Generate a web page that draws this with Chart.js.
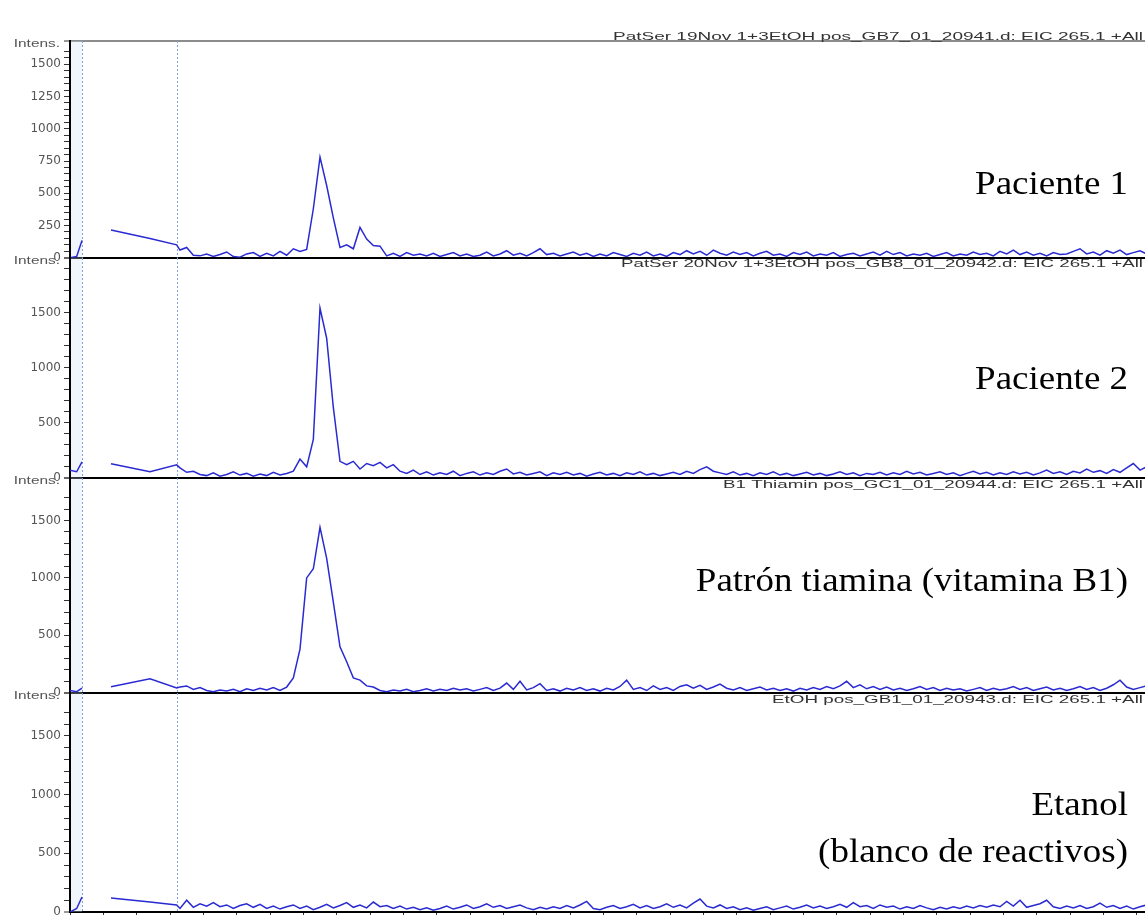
<!DOCTYPE html>
<html>
<head>
<meta charset="utf-8">
<script src="https://cdn.jsdelivr.net/npm/chart.js@4.4.1/dist/chart.umd.min.js"></script>
<style>
html,body{margin:0;padding:0;background:#fff;width:1145px;height:915px;overflow:hidden;}
#wrap{position:relative;width:1145px;height:915px;overflow:hidden;background:#fff;}
#wrap canvas{position:absolute;left:0;}
</style>
</head>
<body>
<div id="wrap"></div>
<script>
// ---------- DATA ----------
// retention-time axis (one x tick = 1 unit)
const earlyTimes = [0, 0.2, 0.36, 0.6, 1.23, 2.4, 3.2];
const scanTimes = [
  3.3,3.5,3.7,3.9,4.1,4.3,4.5,4.7,4.9,5.1,
  5.3,5.5,5.7,5.9,6.1,6.3,6.5,6.7,6.9,7.1,
  7.3,7.5,7.7,7.9,8.1,8.3,8.5,8.7,8.9,9.1,
  9.3,9.5,9.7,9.9,10.1,10.3,10.5,10.7,10.9,11.1,
  11.3,11.5,11.7,11.9,12.1,12.3,12.5,12.7,12.9,13.1,
  13.3,13.5,13.7,13.9,14.1,14.3,14.5,14.7,14.9,15.1,
  15.3,15.5,15.7,15.9,16.1,16.3,16.5,16.7,16.9,17.1,
  17.3,17.5,17.7,17.9,18.1,18.3,18.5,18.7,18.9,19.1,
  19.3,19.5,19.7,19.9,20.1,20.3,20.5,20.7,20.9,21.1,
  21.3,21.5,21.7,21.9,22.1,22.3,22.5,22.7,22.9,23.1,
  23.3,23.5,23.7,23.9,24.1,24.3,24.5,24.7,24.9,25.1,
  25.3,25.5,25.7,25.9,26.1,26.3,26.5,26.7,26.9,27.1,
  27.3,27.5,27.7,27.9,28.1,28.3,28.5,28.7,28.9,29.1,
  29.3,29.5,29.7,29.9,30.1,30.3,30.5,30.7,30.9,31.1,
  31.3,31.5,31.7,31.9,32.1,32.3
];
const markerTimes = [0.36, 3.22];

// Paciente 1 (EIC 265.1)
const paciente1Early = [0, 10, 135, null, 215, 150, 100];
const paciente1Scan = [
  60,80,20,15,30,10,25,45,10,5,
  30,40,10,35,15,50,20,70,50,65,
  380,780,560,310,80,100,70,235,145,95,
  90,15,35,10,40,20,30,15,35,10,
  25,40,15,30,10,20,45,15,30,55,
  20,35,15,40,70,25,35,15,30,45,
  20,35,10,30,15,40,25,10,35,20,
  45,15,30,10,40,25,55,30,50,20,
  60,35,20,45,25,40,15,35,50,20,
  30,10,40,25,45,15,30,20,40,10,
  25,35,15,30,45,20,50,25,40,15,
  30,20,35,10,25,40,15,30,20,45,
  25,35,15,50,30,60,25,45,20,35,
  15,40,25,30,50,70,30,45,20,55,
  35,60,25,40,55,30
];
// Paciente 2
const paciente2Early = [70, 55, 145, null, 127, 55, 118];
const paciente2Scan = [
  90,50,60,30,20,45,15,30,55,25,
  40,15,35,20,50,25,40,60,170,100,
  350,1545,1270,640,150,120,150,80,130,110,
  140,90,120,60,40,70,30,55,25,45,
  30,60,20,40,55,25,45,30,60,80,
  35,50,25,40,55,20,45,30,50,25,
  40,15,35,50,25,40,20,45,30,55,
  25,40,20,35,50,30,60,40,75,100,
  60,45,30,55,25,40,20,45,30,55,
  25,40,20,35,50,25,40,20,35,55,
  30,45,20,40,30,50,25,45,30,60,
  35,50,25,40,55,30,45,20,40,60,
  35,50,25,45,30,55,35,50,25,45,
  70,40,55,30,60,45,80,50,65,40,
  75,50,90,130,70,100
];
// Patrón tiamina (vitamina B1)
const tiaminaEarly = [20, 10, 40, null, 52, 122, 43];
const tiaminaScan = [
  50,60,30,45,20,10,25,15,30,10,
  35,20,40,25,45,20,50,130,380,1000,
  1080,1440,1170,790,400,270,130,110,60,50,
  20,10,25,15,30,10,20,35,15,30,
  20,40,25,35,15,30,45,20,40,85,
  30,100,25,45,80,20,35,15,40,25,
  45,20,35,15,40,25,55,110,30,45,
  20,60,30,45,20,55,70,40,65,30,
  50,75,40,25,45,20,35,50,25,40,
  20,35,15,40,25,45,30,55,35,60,
  100,45,70,35,55,30,50,25,40,20,
  35,55,30,45,20,40,25,35,15,30,
  45,20,40,25,35,55,30,45,20,35,
  50,25,40,20,35,55,30,45,20,40,
  70,110,50,30,45,60
];
// Etanol (blanco de reactivos)
const etanolEarly = [0, 30, 128, null, 120, 85, 60];
const etanolScan = [
  30,100,40,70,50,80,45,60,30,55,
  70,40,65,30,50,25,45,60,30,50,
  20,40,65,35,55,80,40,60,35,85,
  45,55,30,50,25,40,20,35,15,30,
  50,25,40,60,30,45,70,40,55,30,
  45,60,35,20,40,25,45,30,55,35,
  60,90,30,20,40,55,30,45,65,35,
  55,30,45,70,40,60,35,75,110,50,
  35,60,30,45,20,35,15,30,45,20,
  35,50,25,40,60,35,50,30,45,65,
  40,80,45,55,30,60,40,50,25,45,
  30,55,35,20,40,25,45,30,50,35,
  55,40,60,45,90,50,100,40,55,70,
  100,45,30,50,35,55,30,45,75,40,
  55,30,50,25,45,60
];

// y-axis ranges and tick steps per trace
const yMax = [1680, 2000, 1870, 1865];
const yMinorStep = [50, 100, 100, 100];
const yMajorStep = [250, 500, 500, 500];
const yLabelTop = 1500;
const yAxisTitle = 'Intens.';

const traceTitles = [
  'PatSer 19Nov 1+3EtOH pos_GB7_01_20941.d: EIC 265.1 +All MS',
  'PatSer 20Nov 1+3EtOH pos_GB8_01_20942.d: EIC 265.1 +All MS',
  'B1 Thiamin pos_GC1_01_20944.d: EIC 265.1 +All MS',
  'EtOH pos_GB1_01_20943.d: EIC 265.1 +All MS'
];
const sampleNames = [
  ['Paciente 1'],
  ['Paciente 2'],
  ['Patrón tiamina (vitamina B1)'],
  ['Etanol', '(blanco de reactivos)']
];

const earlyValues = [paciente1Early, paciente2Early, tiaminaEarly, etanolEarly];
const scanValues = [paciente1Scan, paciente2Scan, tiaminaScan, etanolScan];

// ---------- LAYOUT (page pixels) ----------
const panels = [
  {top: 41,  bottom: 258, frame: true,  headerX: 613, headerY: 37,  nameY: [185]},
  {top: 258, bottom: 478, frame: false, headerX: 621, headerY: 264, nameY: [380]},
  {top: 478, bottom: 693, frame: false, headerX: 723, headerY: 485, nameY: [582]},
  {top: 693, bottom: 912, frame: false, headerX: 772, headerY: 700, nameY: [806, 853], xAxis: true}
];

const decorPlugin = {
  id: 'decor',
  beforeDatasetsDraw(chart, args, o) {
    const {ctx, chartArea: a} = chart;
    const x = chart.scales.x;
    ctx.save();
    const x0 = x.getPixelForValue(0), x1 = x.getPixelForValue(markerTimes[0]);
    ctx.fillStyle = 'rgba(210,226,246,0.3)';
    ctx.fillRect(x0 + 1, a.top, x1 - x0 - 1, a.bottom - a.top);
    ctx.strokeStyle = '#7ea3de';
    ctx.lineWidth = 1;
    ctx.setLineDash([2, 2]);
    markerTimes.forEach(t => {
      const px = Math.round(x.getPixelForValue(t)) + 0.5;
      ctx.beginPath(); ctx.moveTo(px, a.top); ctx.lineTo(px, a.bottom); ctx.stroke();
    });
    ctx.restore();
  },
  afterDraw(chart, args, o) {
    const ctx = chart.ctx;
    const off = o.canvasTop;
    ctx.save();
    // y-axis title
    ctx.font = '11px "Liberation Sans", Arial, sans-serif';
    ctx.fillStyle = '#555';
    ctx.textBaseline = 'middle';
    ctx.textAlign = 'right';
    ctx.save();
    ctx.translate(60, chart.chartArea.top + 3);
    ctx.scale(1.4, 1);
    ctx.fillText(yAxisTitle, 0, 0);
    ctx.restore();
    // trace header (stretched, runs off the right edge)
    ctx.font = '11px "Liberation Sans", Arial, sans-serif';
    ctx.fillStyle = '#333';
    ctx.textAlign = 'left';
    const vis = o.header.slice(0, o.header.indexOf('+All') + 4);
    const sx = (1143 - o.headerX) / ctx.measureText(vis).width;
    ctx.save();
    ctx.translate(o.headerX, o.headerY - off);
    ctx.scale(sx, 1);
    ctx.fillText(o.header, 0, 0);
    ctx.restore();
    // sample names
    ctx.font = '33px "Liberation Serif", "Times New Roman", serif';
    ctx.fillStyle = '#000';
    ctx.textAlign = 'right';
    o.names.forEach((n, k) => {
      ctx.save();
      ctx.translate(1128, o.nameY[k] - off);
      ctx.scale(1.12, 1);
      ctx.fillText(n, 0, 0);
      ctx.restore();
    });
    ctx.restore();
  }
};

const wrap = document.getElementById('wrap');
const allTimes = earlyTimes.concat(scanTimes);

panels.forEach((P, i) => {
  const padTop = 20;
  const xAxisH = P.xAxis ? 20 : 0;
  const padBottom = P.xAxis ? 0 : 10;
  const canvasTop = P.top - padTop;
  const h = (P.bottom - P.top) + padTop + padBottom + xAxisH;
  const cv = document.createElement('canvas');
  cv.width = 1145; cv.height = h;
  cv.style.width = '1145px'; cv.style.height = h + 'px';
  cv.style.top = canvasTop + 'px';
  wrap.appendChild(cv);

  const vals = earlyValues[i].concat(scanValues[i]);
  const pts = allTimes.map((t, j) => ({x: t, y: vals[j]}));
  const maxV = yMax[i];

  new Chart(cv, {
    type: 'line',
    data: {datasets: [{
      data: pts,
      borderColor: '#2a2ad2',
      borderWidth: 1.5,
      pointRadius: 0,
      tension: 0,
      spanGaps: false,
      fill: false
    }]},
    options: {
      responsive: false,
      animation: false,
      events: [],
      layout: {padding: {top: padTop, bottom: padBottom, left: 0, right: 0}},
      plugins: {
        legend: {display: false},
        tooltip: {enabled: false},
        decor: {canvasTop, header: traceTitles[i], headerX: P.headerX, headerY: P.headerY,
                names: sampleNames[i], nameY: P.nameY}
      },
      scales: {
        x: {
          type: 'linear', min: 0, max: 32.25,
          display: !!P.xAxis,
          afterFit: s => { s.height = xAxisH; },
          ticks: {display: false, stepSize: 1, includeBounds: false, autoSkip: false},
          grid: {drawOnChartArea: false, drawTicks: true, tickLength: 8, color: '#333', lineWidth: 1},
          border: {display: false}
        },
        y: {
          type: 'linear', min: 0, max: maxV,
          afterFit: s => { s.width = 70; },
          ticks: {
            stepSize: yMinorStep[i], autoSkip: false, padding: 3,
            color: '#555', font: {family: '"DejaVu Sans", Arial, sans-serif', size: 12},
            callback: v => (v % yMajorStep[i] === 0 && v <= yLabelTop) ? String(v) : ''
          },
          grid: {
            drawOnChartArea: true, drawTicks: true, tickLength: 6,
            color: c => c.tick.value === 0 ? '#000' : (P.frame && c.tick.value === maxV ? '#8c8c8c' : 'rgba(0,0,0,0)'),
            lineWidth: c => (c.tick.value === 0 || c.tick.value === maxV) ? 2 : 1,
            tickColor: '#333', tickWidth: 1
          },
          border: {display: true, color: '#000', width: 2}
        }
      }
    },
    plugins: [decorPlugin]
  });
});
</script>
</body>
</html>
